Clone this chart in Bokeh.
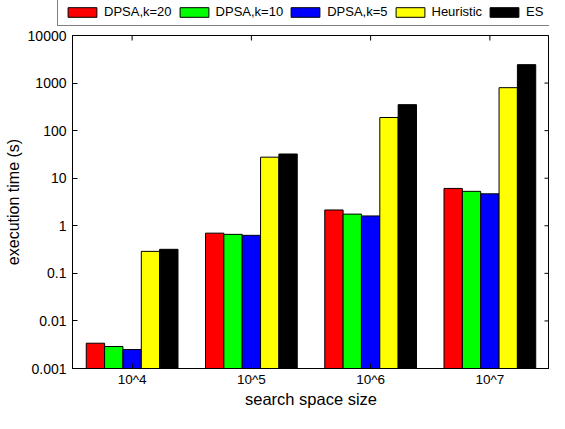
import math
from bokeh.plotting import figure
from bokeh.layouts import column
from bokeh.models import Range1d, FixedTicker, Legend, LegendItem
from bokeh.embed import file_html
from bokeh.resources import INLINE

categories = ["10^4", "10^5", "10^6", "10^7"]
series_names = ["DPSA,k=20", "DPSA,k=10", "DPSA,k=5", "Heuristic", "ES"]
dpsa_k20 = [0.0034, 0.70, 2.15, 6.1]
dpsa_k10 = [0.0029, 0.66, 1.76, 5.3]
dpsa_k5 = [0.0025, 0.63, 1.61, 4.7]
heuristic = [0.29, 27.7, 189, 800]
es = [0.32, 32.3, 352, 2440]
colors = ["#ff0000", "#00ff00", "#0000ff", "#ffff00", "#000000"]
y_ticks = [0.001, 0.01, 0.1, 1, 10, 100, 1000, 10000]
y_tick_labels = ["0.001", "0.01", "0.1", "1", "10", "100", "1000", "10000"]

series = [dpsa_k20, dpsa_k10, dpsa_k5, heuristic, es]
FONT = "Liberation Sans"
n = len(series)
group_width = min(0.8, n / (n + 1.5))
bar_w = group_width / n
x_pos = [i + 1 for i in range(len(categories))]
x_lo, x_hi = 0.5, len(categories) + 0.5

# ---- main chart ----
p = figure(frame_width=477, frame_height=333,
           x_range=Range1d(x_lo, x_hi),
           y_range=Range1d(y_ticks[0], y_ticks[-1]),
           y_axis_type="log", output_backend="svg", toolbar_location=None,
           min_border_left=72, min_border_right=0, min_border_top=8, min_border_bottom=0)
p.background_fill_color = "white"
p.border_fill_color = "white"
p.outline_line_color = "black"
p.outline_line_width = 1
p.xgrid.visible = False
p.ygrid.visible = False

bar_x = []
for i, (vals, col) in enumerate(zip(series, colors)):
    xs = [x + (i - (n - 1) / 2) * bar_w for x in x_pos]
    bar_x.append(xs)
    p.vbar(x=xs, top=vals, bottom=y_ticks[0], width=bar_w,
           fill_color=col, line_color="black", line_width=1)

# mirrored inward ticks on right and top edges (box style)
p.ray(x=[x_hi] * len(y_ticks), y=y_ticks, length=5, length_units="screen",
      angle=math.pi, line_color="black", line_width=1)
p.ray(x=x_pos, y=[y_ticks[-1]] * len(x_pos), length=5, length_units="screen",
      angle=-math.pi / 2, line_color="black", line_width=1)

xa = p.xaxis[0]
xa.ticker = FixedTicker(ticks=x_pos, minor_ticks=[])
xa.major_label_overrides = {x: c for x, c in zip(x_pos, categories)}
ya = p.yaxis[0]
ya.ticker = FixedTicker(ticks=y_ticks, minor_ticks=[])
ya.major_label_overrides = {t: l for t, l in zip(y_ticks, y_tick_labels)}

for ax in (xa, ya):
    ax.major_tick_in = 5
    ax.major_tick_out = 0
    ax.minor_tick_in = 0
    ax.minor_tick_out = 0
    ax.axis_line_color = "black"
    ax.major_tick_line_color = "black"
    ax.major_label_text_font = FONT
    ax.major_label_text_font_size = "14px"
    ax.major_label_text_color = "black"
    ax.axis_label_text_font = FONT
    ax.axis_label_text_font_style = "normal"
    ax.axis_label_text_color = "black"

xa.axis_label = "search space size"
xa.axis_label_text_font_size = "16.5px"
xa.major_label_text_font_size = "13.5px"
xa.major_label_standoff = 3
xa.axis_label_standoff = 0
ya.axis_label = "execution time (s)"
ya.axis_label_text_font_size = "16px"
ya.major_label_standoff = 6
ya.axis_label_standoff = 3

# ---- legend strip above the chart ----
lf = figure(width=549, height=27, x_range=Range1d(x_lo, x_hi), y_range=Range1d(0, 1),
            x_axis_type=None, y_axis_type=None, output_backend="svg",
            toolbar_location=None, min_border=0)
if "frame_align" in lf.properties():
    lf.frame_align = False
lf.outline_line_color = None
lf.xgrid.visible = False
lf.ygrid.visible = False
lf.background_fill_color = "white"
lf.border_fill_color = "white"
items = []
for nm, xs, vals, col in zip(series_names, bar_x, series, colors):
    r = lf.vbar(x=xs, top=vals, bottom=0, width=bar_w, fill_color=col,
                line_color="black", line_width=1, visible=False)
    items.append(LegendItem(label=nm, renderers=[r]))

legend = Legend(items=items, location=(57, 1), orientation="horizontal",
                label_text_font=FONT, label_text_font_size="13px", label_text_color="black",
                label_height=12, glyph_height=12, glyph_width=36,
                label_standoff=4, spacing=4, padding=6, margin=0,
                border_line_color="black", border_line_width=1,
                background_fill_color="white", background_fill_alpha=1,
                inactive_fill_alpha=0)
lf.add_layout(legend, "center")

layout = column(lf, p, spacing=0)
open("out.html", "w").write(file_html(layout, INLINE))
